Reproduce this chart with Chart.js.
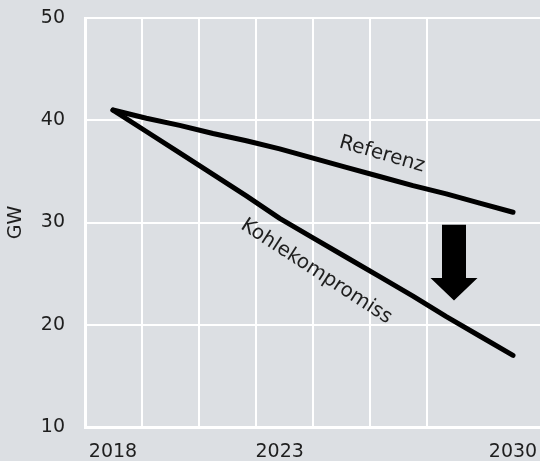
<!DOCTYPE html>
<html>
<head>
<meta charset="utf-8">
<script src="https://cdn.jsdelivr.net/npm/chart.js@4.4.1/dist/chart.umd.min.js"></script>
<style>
    html, body { margin: 0; padding: 0; background: #dcdfe3; }
    #wrap { width: 540px; height: 461px; position: relative; }
</style>
</head>
<body>
<div id="wrap"><canvas id="chart"></canvas></div>
<script>
const years = [2018, 2019, 2020, 2021, 2022, 2023, 2024, 2025, 2026, 2027, 2028, 2029, 2030];
const referenz = [41, 40.2, 39.5, 38.7, 38.0, 37.2, 36.3, 35.4, 34.5, 33.6, 32.8, 31.9, 31.0];
const kohlekompromiss = [41, 38.9, 36.8, 34.7, 32.6, 30.4, 28.5, 26.6, 24.7, 22.8, 20.8, 18.9, 17.0];
const yearTicks = [2018, 2023, 2030];
const gwTicks = [10, 20, 30, 40, 50];

const lineLabels = [
    { text: 'Referenz', year: 2026.07, gw: 36.66, angle: 16 },
    { text: 'Kohlekompromiss', year: 2024.1, gw: 25.2, angle: 33 }
];
const arrow = { year: 2028.23, top: 29.77, headBase: 24.58, tip: 22.36 };

const ink = '#1e1e1e';
const font = 'DejaVu Sans';

const toPoints = (vals) => years.map((yr, i) => ({ x: yr, y: vals[i] }));

const annotations = {
    id: 'annotations',
    afterDatasetsDraw(chart) {
        const { ctx, scales } = chart;
        const xs = scales.x2, ys = scales.y;
        ctx.save();
        ctx.fillStyle = ink;
        ctx.font = `20px "${font}"`;
        ctx.textAlign = 'center';
        ctx.textBaseline = 'middle';
        lineLabels.forEach(l => {
            ctx.save();
            ctx.translate(xs.getPixelForValue(l.year), ys.getPixelForValue(l.gw));
            ctx.rotate(l.angle * Math.PI / 180);
            ctx.fillText(l.text, 0, 0);
            ctx.restore();
        });

        // down arrow
        const cx = xs.getPixelForValue(arrow.year);
        const top = ys.getPixelForValue(arrow.top);
        const base = ys.getPixelForValue(arrow.headBase);
        const tip = ys.getPixelForValue(arrow.tip);
        const shaft = 12, head = 23.5;
        ctx.fillStyle = '#000';
        ctx.beginPath();
        ctx.moveTo(cx - shaft, top);
        ctx.lineTo(cx + shaft, top);
        ctx.lineTo(cx + shaft, base);
        ctx.lineTo(cx + head, base);
        ctx.lineTo(cx, tip);
        ctx.lineTo(cx - head, base);
        ctx.lineTo(cx - shaft, base);
        ctx.closePath();
        ctx.fill();
        ctx.restore();
    }
};

const lineStyle = {
    borderColor: '#000',
    borderWidth: 5,
    pointRadius: 0,
    borderCapStyle: 'round',
    borderJoinStyle: 'round',
    tension: 0,
    xAxisID: 'x2',
    clip: false
};

new Chart(document.getElementById('chart'), {
    type: 'line',
    data: {
        datasets: [
            { label: 'Referenz', data: toPoints(referenz), ...lineStyle },
            { label: 'Kohlekompromiss', data: toPoints(kohlekompromiss), ...lineStyle }
        ]
    },
    options: {
        responsive: true,
        maintainAspectRatio: false,
        animation: false,
        layout: { padding: { top: 18, right: 0, bottom: 0, left: 0 } },
        plugins: { legend: { display: false }, tooltip: { enabled: false } },
        scales: {
            xg: {
                type: 'linear',
                position: 'bottom',
                min: 0,
                max: 455 / 57,
                ticks: { display: false, stepSize: 1 },
                afterBuildTicks: (a) => { a.ticks = a.ticks.filter(t => Number.isInteger(t.value)); },
                grid: { color: '#fff', lineWidth: 2, drawTicks: false },
                border: { display: false }
            },
            x2: {
                type: 'linear',
                position: 'bottom',
                min: 2017.16,
                max: 2030.81,
                afterBuildTicks: (a) => { a.ticks = yearTicks.map(v => ({ value: v })); },
                afterFit: (a) => { a.height = 34; a.paddingLeft = 0; a.paddingRight = 0; },
                ticks: {
                    color: ink,
                    font: { family: font, size: 19 },
                    padding: 14,
                    maxRotation: 0,
                    callback: (v) => String(v)
                },
                grid: { display: false, drawTicks: false },
                border: { display: true, color: '#fff', width: 3 }
            },
            y: {
                min: 10,
                max: 50,
                afterBuildTicks: (a) => { a.ticks = gwTicks.map(v => ({ value: v })); },
                afterFit: (a) => { a.width = 85; a.paddingTop = 0; a.paddingBottom = 0; },
                ticks: { color: ink, font: { family: font, size: 19 }, padding: 20 },
                grid: { color: '#fff', lineWidth: 2, drawTicks: false },
                border: { color: '#fff', width: 3 },
                title: {
                    display: true,
                    text: 'GW',
                    color: ink,
                    font: { family: font, size: 19 },
                    padding: { top: 5, bottom: 0 }
                }
            }
        }
    },
    plugins: [annotations]
});
</script>
</body>
</html>
